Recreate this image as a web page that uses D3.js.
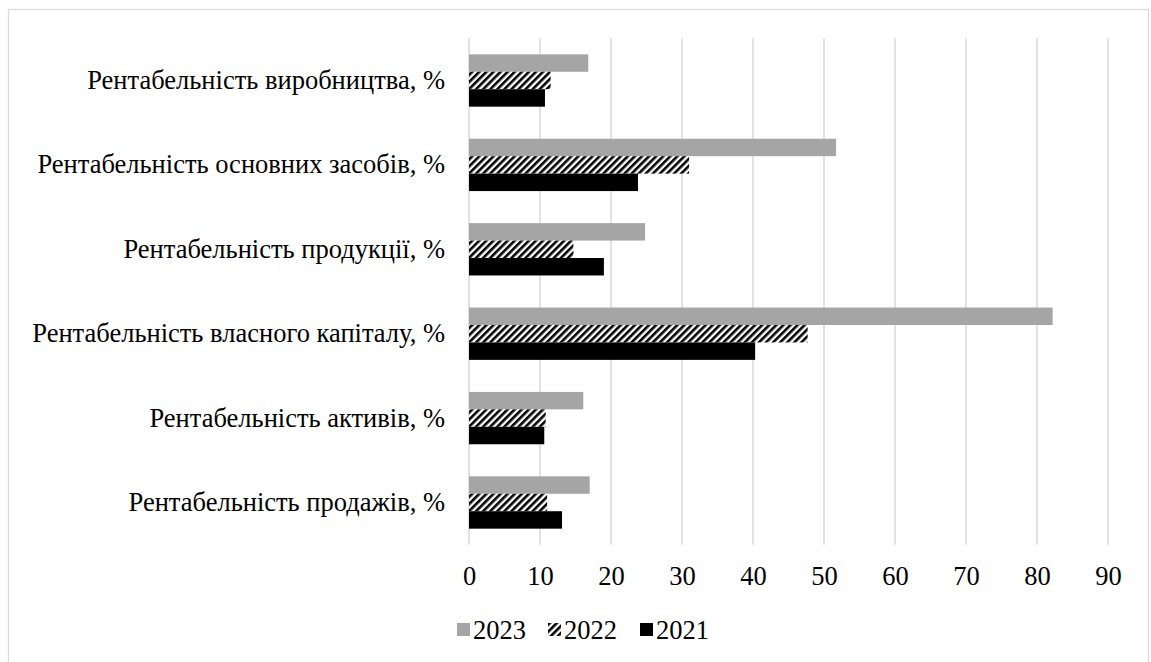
<!DOCTYPE html>
<html>
<head>
<meta charset="utf-8">
<script src="https://cdn.jsdelivr.net/npm/d3@7/dist/d3.min.js"></script>
<style>
  html, body { margin: 0; padding: 0; background: #ffffff; }
  svg { display: block; }
</style>
</head>
<body>
<svg id="chart" width="1151" height="662"></svg>
<script>
// ---- data ----
const categories = [
  "Рентабельність виробництва, %",
  "Рентабельність основних засобів, %",
  "Рентабельність продукції, %",
  "Рентабельність власного капіталу, %",
  "Рентабельність активів, %",
  "Рентабельність продажів, %"
];
const seriesNames = ["2023", "2022", "2021"];
const values2023 = [16.8, 51.7, 24.8, 82.2, 16.1, 17.0];
const values2022 = [11.5, 31.0, 14.7, 47.7, 10.8, 11.0];
const values2021 = [10.7, 23.8, 19.0, 40.3, 10.6, 13.1];
const xTicks = [0, 10, 20, 30, 40, 50, 60, 70, 80, 90];

const seriesValues = { "2023": values2023, "2022": values2022, "2021": values2021 };
const FONT = '"Liberation Serif", "Times New Roman", Tinos, "Noto Serif", "DejaVu Serif", serif';
const FS = 26.5;

const svg = d3.select("#chart");

// frame
svg.append("rect")
  .attr("x", 8.5).attr("y", 9.5)
  .attr("width", 1140).attr("height", 670)
  .attr("fill", "#fff").attr("stroke", "#d9d9d9").attr("stroke-width", 1.2);

// hatch pattern
const defs = svg.append("defs");
const pat = defs.append("pattern")
  .attr("id", "hatch")
  .attr("patternUnits", "userSpaceOnUse")
  .attr("width", 5).attr("height", 5)
  .attr("patternTransform", "rotate(45)");
pat.append("rect").attr("width", 5).attr("height", 5).attr("fill", "#fff");
pat.append("rect").attr("width", 2.6).attr("height", 5).attr("fill", "#000");

const fills = { "2023": "#a5a5a5", "2022": "url(#hatch)", "2021": "#000000" };

const x = d3.scaleLinear().domain([0, 90]).range([469, 1108]);
const y = d3.scaleBand().domain(categories).range([38.3, 544.7])
  .paddingInner(0.38).paddingOuter(0.19);
const ySub = d3.scaleBand().domain(seriesNames).range([0, y.bandwidth()]).padding(0);

// gridlines
svg.append("g").selectAll("line").data(xTicks).join("line")
  .attr("x1", d => x(d)).attr("x2", d => x(d))
  .attr("y1", 38.3).attr("y2", 544.7)
  .attr("stroke", "#d9d9d9").attr("stroke-width", 1.5);

// bars
const groups = svg.append("g").selectAll("g").data(categories).join("g")
  .attr("transform", d => `translate(0,${y(d)})`);
groups.selectAll("rect")
  .data((c, i) => seriesNames.map(s => ({ s, v: seriesValues[s][i] })))
  .join("rect")
  .attr("x", x(0))
  .attr("y", d => ySub(d.s))
  .attr("width", d => x(d.v) - x(0))
  .attr("height", ySub.bandwidth())
  .attr("fill", d => fills[d.s]);

// x tick labels
const xAxis = d3.axisBottom(x).tickValues(xTicks).tickSize(0).tickPadding(0);
const gx = svg.append("g").attr("transform", "translate(0,566)").call(xAxis);
gx.attr("font-family", FONT).attr("font-size", FS);
gx.select(".domain").remove();
gx.selectAll("text")
  .attr("dy", "0.71em")
  .attr("fill", "#000");

// category labels
const yAxis = d3.axisLeft(y).tickSize(0).tickPadding(0);
const gy = svg.append("g").attr("transform", "translate(445,0)").call(yAxis);
gy.attr("font-family", FONT).attr("font-size", FS);
gy.select(".domain").remove();
gy.selectAll("text").attr("fill", "#000");

// legend
const legendItems = [
  { name: "2023", x: 457 },
  { name: "2022", x: 548 },
  { name: "2021", x: 640 }
];
const lg = svg.append("g").attr("font-family", FONT).attr("font-size", FS)
  .selectAll("g").data(legendItems).join("g")
  .attr("transform", d => `translate(${d.x},623)`);
lg.append("rect").attr("width", 13).attr("height", 13)
  .attr("fill", d => fills[d.name]);
lg.append("text").attr("x", 16).attr("y", 6.5).attr("dy", "0.35em")
  .attr("fill", "#000")
  .text(d => d.name);
</script>
</body>
</html>
